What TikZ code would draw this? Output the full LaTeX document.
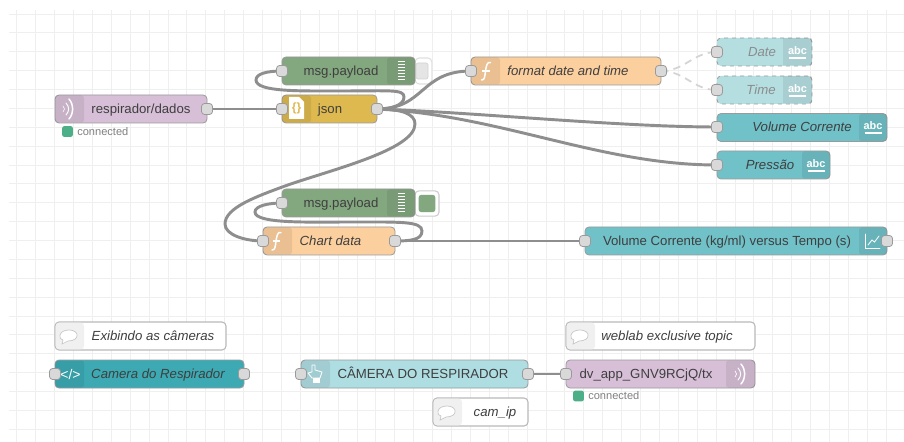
\documentclass[tikz,border=0pt]{standalone}
\usepackage{fontspec}
\setmainfont{Liberation Sans}
\definecolor{wirec}{HTML}{8E8E8E}
\definecolor{portc}{HTML}{D9D9D9}
\definecolor{gridc}{HTML}{EFEFEF}
\definecolor{edgec}{HTML}{9A9A9A}
\definecolor{dimw}{HTML}{D4D4D4}
\definecolor{dbg}{HTML}{83A77E}
\definecolor{jsonc}{HTML}{DEB94F}
\definecolor{func}{HTML}{FCCF9F}
\definecolor{mqtt}{HTML}{D7BFD7}
\definecolor{uic}{HTML}{70C1C8}
\definecolor{uif}{HTML}{B5DEE1}
\definecolor{tmpl}{HTML}{3CA9B3}
\definecolor{btn}{HTML}{AEDDE2}
\definecolor{txt}{HTML}{3F3F3F}
\definecolor{okc}{HTML}{4CAF87}
\pgfdeclarelayer{back}
\pgfdeclarelayer{mid}
\pgfsetlayers{back,mid,main}
\tikzset{
  x=0.75pt,y=-0.75pt,
  body/.style={draw=edgec,line width=0.6pt,rounded corners=3pt},
  wire/.style={draw=wirec,line width=2.2pt,line cap=round},
  dimwire/.style={draw=dimw,line width=1.3pt,dash pattern=on 5.5pt off 4pt},
  portbox/.style={draw=edgec,fill=portc,line width=0.6pt,rounded corners=2.2pt,minimum size=8.2pt,inner sep=0pt},
  label/.style={font=\fontsize{9.9pt}{11pt}\selectfont,text=txt,inner sep=0pt,text height=7.4pt,text depth=0.6pt},
  itlabel/.style={label,font=\fontsize{9.9pt}{11pt}\selectfont\itshape},
  ico/.style={white,line width=0.7pt,line cap=round},
  stat/.style={font=\fontsize{8.3pt}{9pt}\selectfont,text=black!50,inner sep=0pt,anchor=west},
  statbox/.style={fill=okc,rounded corners=1.5pt,minimum size=8pt,inner sep=0pt}
}
% name, x1, x2, y1, y2, colour, divider x1, divider x2
\newcommand{\flowbox}[8]{%
  \node[body,fill=#6,minimum width={(#3-#2)*0.75pt},minimum height={(#5-#4)*0.75pt},inner sep=0pt] (#1) at ({(#2+#3)/2},{(#4+#5)/2}) {};
  \fill[black,opacity=0.07,rounded corners=2pt] (#7,#4+0.5) rectangle (#8,#5-0.5);
}
\newcommand{\radioicon}[2]{%
  \draw[ico,line width=1.1pt] (#1+1,#2-10) .. controls (#1+6,#2-4) and (#1+6,#2+4) .. (#1+1,#2+10);
  \draw[ico,line width=0.7pt] (#1-2,#2-6) .. controls (#1+1.5,#2-2) and (#1+1.5,#2+2) .. (#1-2,#2+6);
  \draw[ico,line width=0.5pt] (#1-5,#2-3) .. controls (#1-3,#2-1) and (#1-3,#2+1) .. (#1-5,#2+3);
}
\newcommand{\bars}[2]{%
  \foreach \k in {-9,-6,-3,0,3,6,9} \draw[white,line width=0.75pt] (#1-3.7,#2+\k) -- (#1+3.7,#2+\k);
}
\newcommand{\fsign}[2]{%
  \draw[white,line width=1.1pt,line cap=round] (#1+5,#2-8.5) .. controls (#1+1.5,#2-9.5) and (#1+0.8,#2-5) .. (#1,#2) .. controls (#1-0.6,#2+5) and (#1-0.8,#2+9.5) .. (#1-4,#2+9);
  \draw[white,line width=0.9pt] (#1-3.5,#2) -- (#1+4,#2);
}
\newcommand{\abcicon}[2]{%
  \node[white,inner sep=0pt,font=\fontsize{8.2pt}{8pt}\selectfont\bfseries] at (#1,#2-1.2) {abc};
  \draw[white,line width=0.9pt] (#1-8.5,#2+6) -- (#1+8.5,#2+6);
}
\newcommand{\bubble}[2]{%
  \draw[gray!45,fill=white,line width=0.5pt] (#1-6,#2+4) -- (#1-7,#2+8) -- (#1-1,#2+5) .. controls (#1+11,#2+5) and (#1+11,#2-6) .. (#1,#2-6) .. controls (#1-11,#2-6) and (#1-11,#2+4) .. (#1-6,#2+4);
}
% name, x1, x2, y1, y2, divider, icon x
\newcommand{\commentbox}[7]{%
  \node[draw=gray!55,line width=0.8pt,fill=white,rounded corners=3pt,minimum width={(#3-#2)*0.75pt},minimum height={(#5-#4)*0.75pt},inner sep=0pt] (#1) at ({(#2+#3)/2},{(#4+#5)/2}) {};
  \fill[black!6,rounded corners=2.5pt] (#2+0.7,#4+0.7) rectangle (#6,#5-0.7);
  \bubble{#7}{#4+14}
}
\begin{document}
\begin{tikzpicture}
\useasboundingbox (0,0) rectangle (904,442);
\begin{pgfonlayer}{back}
\fill[white] (0,0) rectangle (904,442);
% grid
\foreach \k in {0,...,46} \draw[gridc,line width=0.6pt] ({16.7+18.9*\k},10) -- ({16.7+18.9*\k},442);
\foreach \k in {0,...,22} \draw[gridc,line width=0.6pt] (9,{14+18.87*\k}) -- (904,{14+18.87*\k});

% ---- bodies
\flowbox{resp}{55}{207}{95}{123}{mqtt}{55}{84}
\flowbox{json}{282}{377}{95}{123}{jsonc}{282}{311}
\node[draw=gray!25,fill=white,line width=0.8pt,rounded corners=3pt,minimum width=12.5pt,minimum height=19.5pt,inner sep=0pt] (btnA) at (423.5,71) {};
\node[draw=gray!35,fill=black!10,line width=0.5pt,rounded corners=1.5pt,minimum width=9pt,minimum height=12pt,inner sep=0pt] (btnAin) at (422,71) {};
\flowbox{dbgA}{282}{415}{57}{85}{dbg}{387}{415}
\node[draw=gray!40,fill=white,line width=0.8pt,rounded corners=3pt,minimum width=18pt,minimum height=19pt,inner sep=0pt] (btnB) at (427,203.5) {};
\node[fill=dbg,rounded corners=2pt,minimum width=12.5pt,minimum height=13pt,inner sep=0pt] (btnBin) at (427,203.5) {};
\flowbox{dbgB}{282}{415}{189}{217}{dbg}{387}{415}
\flowbox{chart}{263}{395}{227}{255}{func}{263}{292}
\flowbox{fmt}{471}{661}{57}{85}{func}{471}{500}
\node[body,dashed,fill=uif,minimum width=71.25pt,minimum height=21pt,inner sep=0pt] (date) at (764.5,52) {};
\fill[black,opacity=0.07] (783,38.5) rectangle (811.5,65.5);
\node[body,dashed,fill=uif,minimum width=71.25pt,minimum height=21pt,inner sep=0pt] (time) at (764.5,90) {};
\fill[black,opacity=0.07] (783,76.5) rectangle (811.5,103.5);
\flowbox{vol}{717}{887}{113.5}{141.5}{uic}{859}{887}
\flowbox{pres}{717}{830}{151}{179}{uic}{802}{830}
\flowbox{vchart}{585}{887}{227}{255}{uic}{859}{887}
\commentbox{cExib}{55}{226}{322}{350}{84}{69}
\flowbox{cam}{55}{244}{360}{388}{tmpl}{55}{84}
\flowbox{cbtn}{301}{528}{360}{388}{btn}{301}{330}
\flowbox{tx}{566}{755}{360}{388}{mqtt}{726}{755}
\commentbox{cWeb}{566}{755}{322}{350}{595}{580}
\commentbox{cIp}{433}{528}{398}{426}{462}{447}
\end{pgfonlayer}

% ---- ports
\node[portbox] (respO) at (207,109) {};
\node[portbox] (jsonI) at (282,109) {};
\node[portbox] (jsonO) at (377,109) {};
\node[portbox] (dbgAI) at (282,71) {};
\node[portbox] (dbgBI) at (282,203) {};
\node[portbox] (chartI) at (263,241) {};
\node[portbox] (chartO) at (395,241) {};
\node[portbox] (fmtI) at (471,71) {};
\node[portbox] (fmtO) at (661,71) {};
\node[portbox] (dateI) at (717,52) {};
\node[portbox] (timeI) at (717,90) {};
\node[portbox] (volI) at (717,127) {};
\node[portbox] (presI) at (717,165) {};
\node[portbox] (vchartI) at (585,241) {};
\node[portbox] (vchartO) at (887,241) {};
\node[portbox] (camI) at (55,374) {};
\node[portbox] (camO) at (244,374) {};
\node[portbox] (cbtnI) at (301,374) {};
\node[portbox] (cbtnO) at (528,374) {};
\node[portbox] (txI) at (566,374) {};

% ---- wires
\begin{pgfonlayer}{mid}
\draw[wire] (respO.center) -- (jsonI.center);
\draw[wire] (cbtnO.center) -- (txI.center);
\draw[wire] (chartO.center) -- (vchartI.center);
\draw[wire] (jsonO.center) .. controls (392,109) and (404,105) .. (404,97) .. controls (404,89) and (390,91) .. (340,91) .. controls (300,91) and (256,92) .. (256,80) .. controls (256,74) and (266,71) .. (dbgAI.center);
\draw[wire] (jsonO.center) .. controls (425,109) and (420,71) .. (fmtI.center);
\draw[wire] (jsonO.center) .. controls (470,112) and (620,127) .. (volI.center);
\draw[wire] (jsonO.center) .. controls (500,115) and (600,165) .. (presI.center);
\draw[wire] (jsonO.center) .. controls (402,109) and (415,114) .. (415,124) .. controls (415,150) and (330,170) .. (285,186) .. controls (255,197) and (225,208) .. (225,224) .. controls (225,235) and (245,241) .. (chartI.center);
\draw[wire] (chartO.center) .. controls (410,241) and (422,240) .. (422,231) .. controls (422,221) and (400,222) .. (350,222) .. controls (310,222) and (255,224) .. (255,212) .. controls (255,206) and (268,203) .. (dbgBI.center);
\draw[dimwire] (fmtO.center) .. controls (685,71) and (693,52) .. (dateI.center);
\draw[dimwire] (fmtO.center) .. controls (685,71) and (693,90) .. (timeI.center);
\end{pgfonlayer}

% ---- labels
\node[label] (tResp) at (141,109) {respirador/dados};
\node[label] (tJson) at (330,109) {json};
\node[label] (tA) at (341,71) {msg.payload};
\node[label] (tB) at (341,203) {msg.payload};
\node[itlabel] (tChart) at (330.5,241) {Chart data};
\node[itlabel] (tFmt) at (568,71) {format date and time};
\node[itlabel,text=black!45] (tDate) at (762,52) {Date};
\node[itlabel,text=black!45] (tTime) at (761,90) {Time};
\node[itlabel] (tVol) at (802,127) {Volume Corrente};
\node[itlabel] (tPres) at (770,165) {Pressão};
\node[label] (tV) at (727,241) {Volume Corrente (kg/ml) versus Tempo (s)};
\node[itlabel] (tExib) at (153,336) {Exibindo as câmeras};
\node[itlabel] (tCam) at (158,374) {Camera do Respirador};
\node[label] (tBtn) at (423,374) {CÂMERA DO RESPIRADOR};
\node[label] (tTx) at (646,374) {dv\_app\_GNV9RCjQ/tx};
\node[itlabel] (tWeb) at (667,336) {weblab exclusive topic};
\node[itlabel] (tIp) at (495,412) {cam\_ip};

% ---- status
\node[statbox] (s1) at (67.5,131.5) {};
\node[stat] (s1t) at (77,131.5) {connected};
\node[statbox] (s2) at (578.5,396) {};
\node[stat] (s2t) at (588,396) {connected};

% ---- icons
\radioicon{68}{109}
\radioicon{740}{374}
\bars{401.5}{71}
\bars{401.5}{203}
\fsign{485.5}{71}
\fsign{276}{241}
\abcicon{797.5}{52}
\abcicon{797.5}{90}
\abcicon{873}{127}
\abcicon{816}{165}
% json icon
\fill[white] (289,97) -- (299,97) -- (304,102) -- (304,119) -- (289,119) -- cycle;
\node[text=jsonc,inner sep=0pt,font=\fontsize{9pt}{9pt}\selectfont\bfseries] at (296.5,108) {\{\}};
% chart icon
\draw[ico,line width=0.6pt] (865.5,234) -- (865.5,248) -- (880,248);
\draw[ico,line width=0.6pt] (868,245) -- (872,240) -- (874.5,242) -- (879,236);
% template icon
\node[white,inner sep=0pt,font=\fontsize{10.5pt}{10pt}\selectfont] at (70.5,374) {</>};
% hand icon
\draw[white,line width=0.6pt,line join=round] (312,365) -- (312,372) -- (308,373) -- (312,378) -- (320,378) -- (322,372) -- (315,370) -- (315,365) -- cycle;
\fill[white] (312.5,378) rectangle (320,383);
\end{tikzpicture}
\end{document}
